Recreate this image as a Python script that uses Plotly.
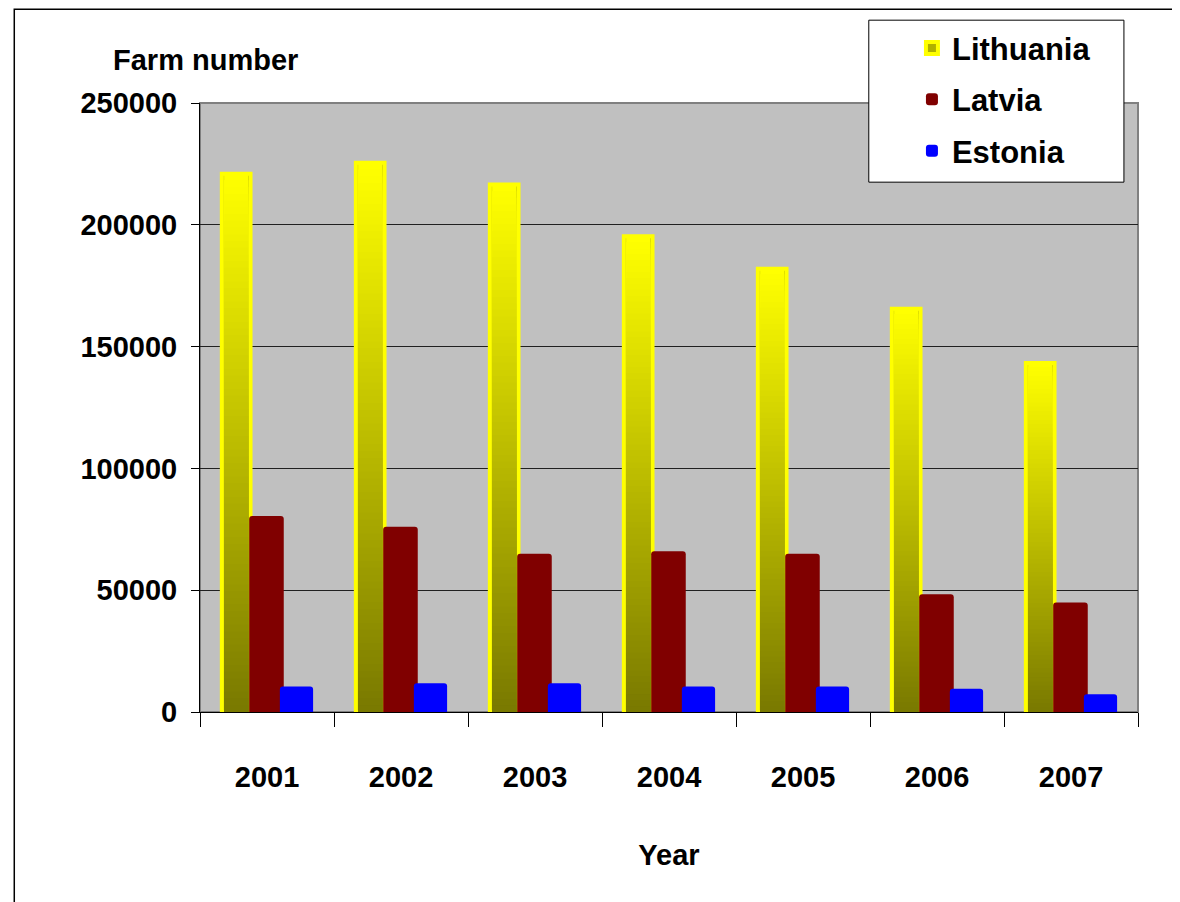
import plotly.graph_objects as go

# Farm numbers in the Baltic states, 2001-2007
years = ['2001', '2002', '2003', '2004', '2005', '2006', '2007']
lithuania = [221000, 225500, 216500, 195300, 182000, 165500, 143300]
latvia = [80500, 76000, 65000, 66000, 65000, 48300, 44900]
estonia = [10500, 11800, 11800, 10500, 10500, 9500, 7300]

FONT = 'Liberation Sans, Arial, sans-serif'
FSIZE = 29
N_STEPS = 80  # vertical gradient resolution for the Lithuania bars


def shade(frac):
    """Olive at the bottom of a bar to bright yellow at its top."""
    lo, hi = (120, 120, 0), (255, 255, 0)
    r, g, b = [round(a + (c - a) * frac) for a, c in zip(lo, hi)]
    return f'rgb({r},{g},{b})'


fig = go.Figure()

# Lithuania: yellow outlined bar (also used for the legend entry)
fig.add_trace(go.Bar(
    x=years, y=lithuania, name='Lithuania', legendgroup='lt',
    offset=-0.337, width=0.214,
    marker=dict(color='#b0b000', line=dict(color='#ffff00', width=4)),
))

# gradient fill, drawn tallest first so each shorter bar darkens the lower part
for i in range(N_STEPS):
    frac = (N_STEPS - i) / N_STEPS
    fig.add_trace(go.Bar(
        x=years, y=[v * frac for v in lithuania],
        offset=-0.320, width=0.180, legendgroup='lt',
        marker=dict(color=shade(frac), line=dict(width=0)),
        showlegend=False, hoverinfo='skip',
    ))

fig.add_trace(go.Bar(
    x=years, y=latvia, name='Latvia', legendgroup='lv',
    offset=-0.133, width=0.258,
    marker=dict(color='#800000', line=dict(width=0), cornerradius=3),
))

fig.add_trace(go.Bar(
    x=years, y=estonia, name='Estonia', legendgroup='ee',
    offset=0.096, width=0.248,
    marker=dict(color='#0000ff', line=dict(width=0), cornerradius=3),
))

fig.update_layout(
    width=1172, height=894,
    barmode='overlay',
    plot_bgcolor='#c0c0c0',
    paper_bgcolor='white',
    font=dict(family=FONT, size=FSIZE, color='black'),
    margin=dict(l=192, r=42, t=95, b=190),
    showlegend=True,
    legend=dict(
        x=0.759, y=1.134, xanchor='left', yanchor='top',
        bgcolor='rgba(0,0,0,0)', borderwidth=0,
        font=dict(family=FONT, size=FSIZE + 2, color='black', weight='bold'),
        traceorder='grouped', tracegroupgap=8,
    ),
    xaxis=dict(
        type='category',
        showline=True, linecolor='black', linewidth=1,
        ticks='outside', tickson='boundaries', ticklen=14, tickcolor='black',
        ticklabelstandoff=39,
        tickfont=dict(family=FONT, size=FSIZE, weight='bold'),
        title=dict(text='Year', standoff=52,
                   font=dict(family=FONT, size=FSIZE, weight='bold')),
        showgrid=False,
    ),
    yaxis=dict(
        range=[0, 250000], dtick=50000, tickformat='d',
        showline=True, linecolor='black', linewidth=1,
        ticks='outside', ticklen=8, tickcolor='black',
        ticklabelstandoff=8,
        tickfont=dict(family=FONT, size=FSIZE, weight='bold'),
        showgrid=True, gridcolor='#202020', gridwidth=1,
        zeroline=False,
    ),
    annotations=[dict(
        text='Farm number', xref='paper', yref='paper',
        x=0.006, y=1.07, xanchor='center', yanchor='middle', showarrow=False,
        font=dict(family=FONT, size=FSIZE, weight='bold'),
    )],
    shapes=[
        # grey wall edge on top/right of the plot area
        dict(type='rect', xref='paper', yref='paper', x0=0, x1=1, y0=0, y1=1,
             line=dict(color='#808080', width=2), layer='below'),
        # legend box
        dict(type='rect', xref='paper', yref='paper',
             x0=0.713, x1=0.985, y0=0.870, y1=1.136,
             line=dict(color='black', width=1), fillcolor='white', layer='above'),
        # outer chart frame
        dict(type='rect', xref='paper', yref='paper',
             x0=-0.198, x1=1.06, y0=-0.33, y1=1.1540,
             line=dict(color='black', width=1.5)),
    ],
)

fig.write_html("out.html")
